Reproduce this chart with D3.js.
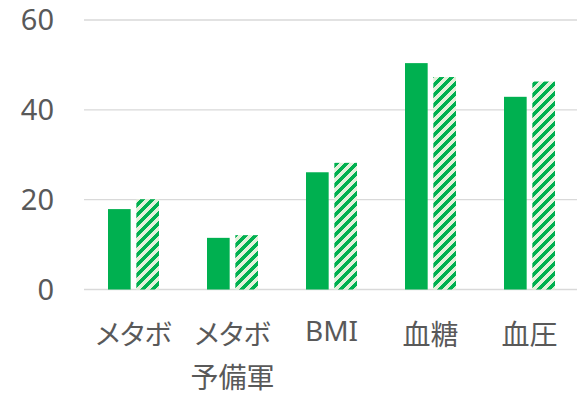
<!DOCTYPE html>
<html><head><meta charset="utf-8">
<script src="https://cdn.jsdelivr.net/npm/d3@7"></script>
<style>
html,body{margin:0;padding:0;background:#fff;}
svg{display:block;}
text{font-family:"Noto Sans","Noto Sans CJK JP",sans-serif;fill:#595959;font-feature-settings:"palt";}
</style></head>
<body>
<svg id="chart" width="577" height="400"></svg>
<script>
const categories = [["メタボ"], ["メタボ","予備軍"], ["BMI"], ["血糖"], ["血圧"]];
const seriesNames = ["series1", "series2"];
const series1 = [17.9, 11.5, 26.1, 50.4, 42.9];
const series2 = [20.1, 12.1, 28.2, 47.3, 46.3];
const yTicks = [0, 20, 40, 60];

const svg = d3.select("#chart");
const defs = svg.append("defs");
const P = 10;
const pat = defs.append("pattern").attr("id","hatch")
  .attr("patternUnits","userSpaceOnUse").attr("width",P).attr("height",P);
pat.append("rect").attr("width",P).attr("height",P).attr("fill","#e2f0d9");
for (let r = 0; r < P; r++) {
  for (let c = 0; c < P; c++) {
    if ((c + r) % P >= 5) {
      pat.append("rect").attr("x",c).attr("y",r).attr("width",1).attr("height",1)
        .attr("fill","#00b050").attr("shape-rendering","crispEdges");
    }
  }
}

const keys = categories.map((c,i)=>"c"+i);
const x = d3.scaleBand().domain(keys).range([84, 579]).padding(0);
const xs = d3.scaleBand().domain(seriesNames).range([24, 75]).paddingInner(0.2);
const y = d3.scaleLinear().domain([0, 60]).range([289.5, 20]);

// gridlines
svg.append("g").selectAll("line").data(yTicks).join("line")
  .attr("x1", 84).attr("x2", 577)
  .attr("y1", d=>y(d)).attr("y2", d=>y(d))
  .attr("stroke", "#d9d9d9").attr("stroke-width", 1.4);

// y labels
svg.append("g").selectAll("text").data(yTicks).join("text")
  .attr("x", 54).attr("y", d=>y(d)).attr("dy","0.36em")
  .attr("text-anchor","end").attr("font-size", 29)
  .text(d=>d);

const data = keys.map((k,i)=>({k, v:[series1[i], series2[i]]}));
const g = svg.append("g").selectAll("g").data(data).join("g")
  .attr("transform", d=>`translate(${x(d.k)},0)`);
g.selectAll("rect").data(d=>d.v.map((v,j)=>({s:seriesNames[j], v}))).join("rect")
  .attr("x", d=>xs(d.s)).attr("width", xs.bandwidth())
  .attr("y", d=>y(d.v)).attr("height", d=>y(0)-y(d.v))
  .attr("fill", d=>d.s==="series1" ? "#00b050" : "url(#hatch)");

// x labels
const xl = svg.append("g").selectAll("text").data(categories).join("text")
  .attr("text-anchor","middle").attr("font-size", 28)
  .attr("x", (d,i)=>x(keys[i]) + x.bandwidth()/2)
  .attr("y", (d)=> /^[A-Za-z]+$/.test(d[0]) ? 341 : 345);
xl.selectAll("tspan").data(d=>d).join("tspan")
  .attr("x", function(){ return d3.select(this.parentNode).attr("x"); })
  .attr("dy", (d,i)=> i===0 ? 0 : 43)
  .text(d=>d);
</script>
</body></html>
